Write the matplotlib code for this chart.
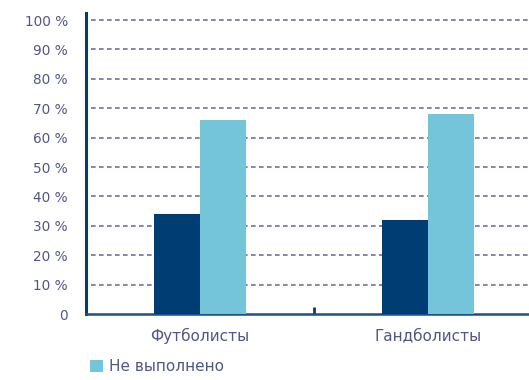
import matplotlib
matplotlib.use("Agg")
import matplotlib.pyplot as plt
import numpy as np

groups = ["Футболисты", "Гандболисты"]
done = [34, 32]
not_done = [66, 68]
yticks = [0, 10, 20, 30, 40, 50, 60, 70, 80, 90, 100]
ylabels = ["0"] + ["%d %%" % v for v in yticks[1:]]

plt.rcParams['font.family'] = ['DejaVu Sans']

navy = "#003d73"
light = "#74c5d9"
text_col = "#505785"

fig = plt.figure(figsize=(5.29, 3.80), dpi=100)
# the axes run past the right edge of the figure on purpose
ax = fig.add_axes([86 / 529, 66 / 380, 456 / 529, 301 / 380])

x = np.arange(len(groups))
w = 0.2
ax.bar(x - w / 2, done, w, color=navy, zorder=3, label="Выполнено")
bars = ax.bar(x + w / 2, not_done, w, color=light, zorder=3, label="Не выполнено")

ax.set_xlim(-0.5, 1.5)
ax.set_ylim(0, 102.4)
ax.set_yticks(yticks)
ax.set_yticklabels(ylabels)
ax.tick_params(axis='y', length=0, pad=13, labelsize=9.8, labelcolor=text_col)

ax.set_xticks(x)
ax.set_xticklabels(groups)
ax.tick_params(axis='x', which='major', length=0, pad=10, labelsize=11, labelcolor=text_col)
ax.set_xticks([0.5], minor=True)
ax.tick_params(axis='x', which='minor', direction='in', length=5, width=2, color=navy)

# dashed guides start a little right of the left spine
for v in yticks[1:]:
    ax.axhline(v, xmin=0.01, color="#6d739a", lw=1.2, ls=(0, (2.8, 2.0)), zorder=1)

for s in ["top", "right"]:
    ax.spines[s].set_visible(False)
ax.spines["left"].set_color(navy)
ax.spines["left"].set_linewidth(2.2)
ax.spines["bottom"].set_color("#1f4f86")
ax.spines["bottom"].set_linewidth(1.8)

fig.legend([bars], ["Не выполнено"], loc="lower left", bbox_to_anchor=(76 / 529, -8 / 380),
           frameon=False, fontsize=11, labelcolor=text_col, handlelength=0.85,
           handleheight=0.85, handletextpad=0.4)

fig.savefig("out.png", dpi=100)
